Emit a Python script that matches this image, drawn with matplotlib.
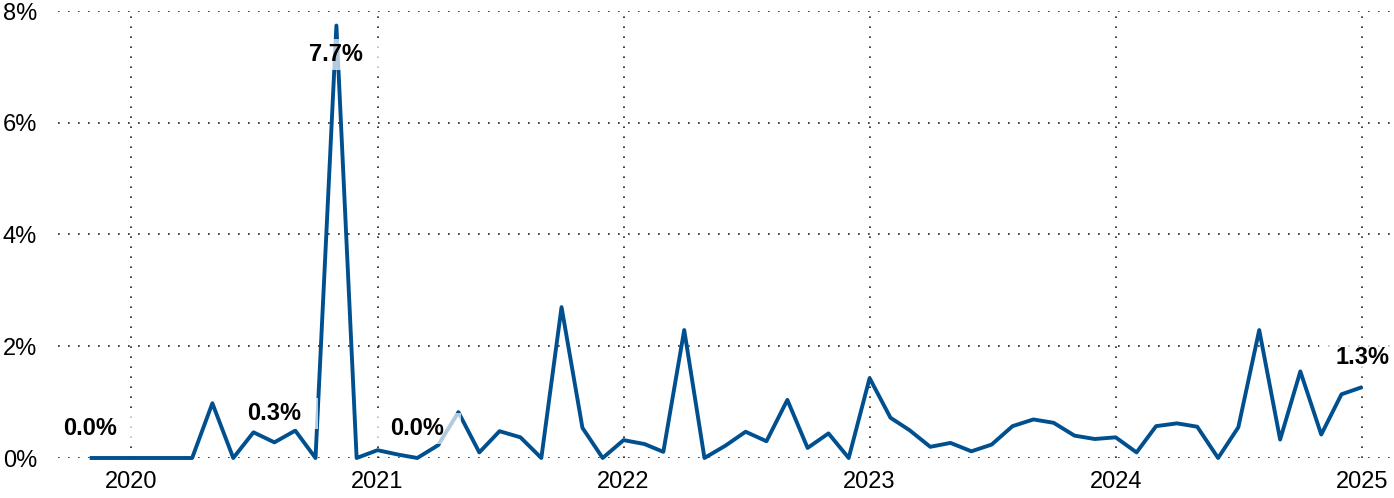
import numpy as np
import matplotlib
matplotlib.use("Agg")
import matplotlib.pyplot as plt
import matplotlib.dates as mdates
from matplotlib.ticker import FuncFormatter

plt.rcParams['font.family'] = ['Liberation Sans', 'DejaVu Sans']

# monthly values, Nov 2019 .. Jan 2025 (percent)
months = np.arange('2019-11', '2025-02', dtype='datetime64[M]').astype('datetime64[D]')
values = [
    0.0, 0.0,
    0.0, 0.0, 0.0, 0.0, 0.98, 0.0, 0.46, 0.28, 0.49, 0.0, 7.74, 0.0,
    0.14, 0.06, 0.0, 0.23, 0.82, 0.10, 0.48, 0.37, 0.0, 2.70, 0.54, 0.0,
    0.32, 0.25, 0.11, 2.29, 0.0, 0.22, 0.47, 0.30, 1.04, 0.18, 0.44, 0.0,
    1.43, 0.72, 0.50, 0.20, 0.27, 0.12, 0.24, 0.57, 0.69, 0.63, 0.40, 0.34,
    0.37, 0.10, 0.57, 0.62, 0.56, 0.0, 0.55, 2.29, 0.33, 1.55, 0.42, 1.14,
    1.27,
]
# labelled points: index -> direction (1 above, -1 below)
label_points = {0: 1, 9: 1, 12: -1, 16: 1, 62: 1}
y_ticks = [0, 2, 4, 6, 8]
year_ticks = np.array(['2020-01-01', '2021-01-01', '2022-01-01', '2023-01-01',
                       '2024-01-01', '2025-01-01'], dtype='datetime64[D]')

line_color = '#00508f'

fig = plt.figure(figsize=(13.94, 4.98), dpi=100)
ax = fig.add_axes([58 / 1394, 40 / 498, 1332 / 1394, 447 / 498])

ax.plot(months, values, color=line_color, lw=2.8, clip_on=False, zorder=3,
        solid_joinstyle='round', solid_capstyle='butt')

for i, d in label_points.items():
    ax.annotate(f"{values[i]:.1f}%", (months[i], values[i]),
                xytext=(0, 21 * d), textcoords='offset points',
                ha='center', va='center', fontsize=17, fontweight='bold',
                color='black', zorder=5,
                bbox=dict(boxstyle='square,pad=0.7', mutation_aspect=0.25,
                          fc='white', ec='none', alpha=0.7))

ax.set_ylim(0, 8)
ax.set_yticks(y_ticks)
ax.yaxis.set_major_formatter(FuncFormatter(lambda v, p: f"{v:.0f}%"))
ax.set_xlim(np.datetime64('2019-09-15'), np.datetime64('2025-02-11'))
ax.set_xticks(year_ticks)
ax.xaxis.set_major_formatter(mdates.DateFormatter('%Y'))

ax.tick_params(axis='both', length=0, labelsize=17, colors='black')
ax.tick_params(axis='y', pad=15)
ax.tick_params(axis='x', pad=9)
for s in ax.spines.values():
    s.set_visible(False)

ax.grid(True, color='#222222', lw=1.2, linestyle=(0, (1, 5)))
ax.set_axisbelow(True)

fig.savefig("out.png", dpi=100)
